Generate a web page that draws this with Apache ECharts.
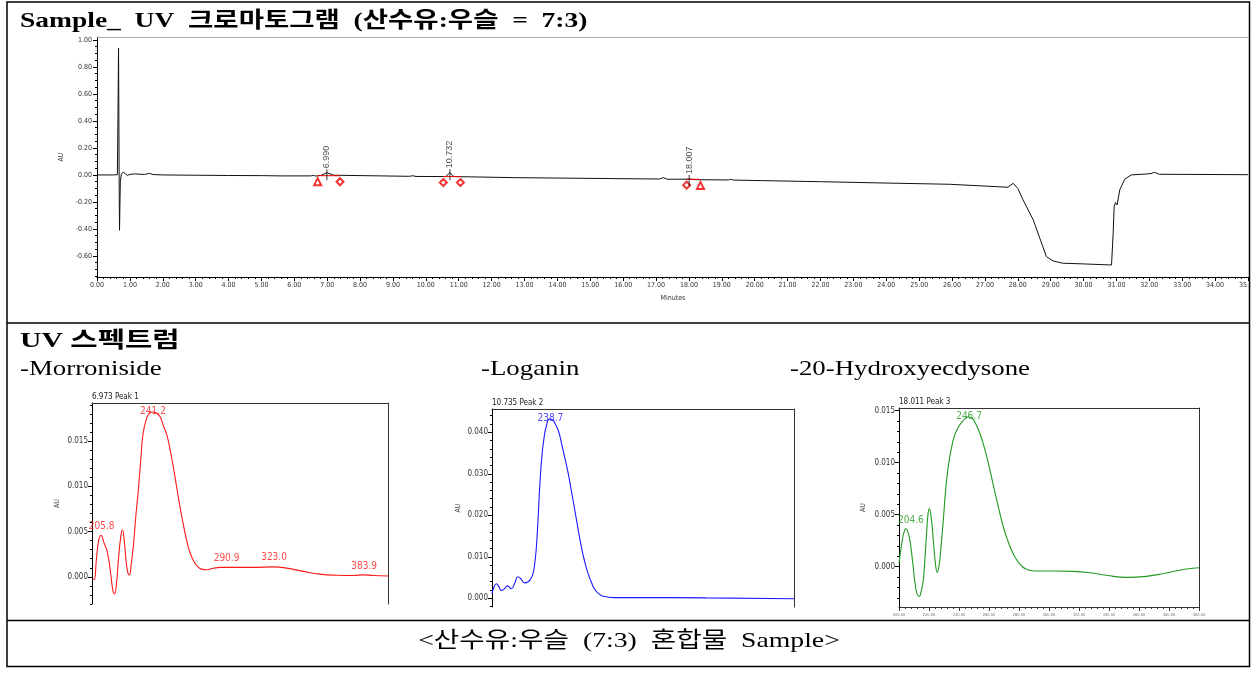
<!DOCTYPE html>
<html><head><meta charset="utf-8">
<script src="https://cdn.jsdelivr.net/npm/echarts@6/dist/echarts.min.js"></script>
<style>html,body{margin:0;padding:0;background:#fff}#c{width:1255px;height:674px}</style>
</head><body><div id="c"></div><script>
// ---------------- DATA ----------------
// Chromatogram (time in minutes, absorbance AU)
const chromTime = [0, 0.5, 0.62, 0.64, 0.655, 0.665, 0.675, 0.685, 0.695, 0.71, 0.74, 0.8, 0.86, 0.92, 1.0, 1.15, 1.3, 1.45, 1.6, 1.7, 2.0, 3.0, 4.0, 5.0, 5.6, 6.5, 6.58, 6.65, 6.8, 6.99, 7.2, 7.48, 7.52, 9.5, 9.6, 9.7, 10.6, 10.73, 10.85, 12.7, 15.7, 17.1, 17.22, 17.35, 18.0, 18.2, 19.2, 19.27, 19.35, 20.2, 22.0, 24.0, 25.93, 27.7, 27.86, 28.0, 28.16, 28.47, 28.67, 28.87, 29.07, 29.37, 30.0, 30.85, 30.9, 30.93, 30.97, 31.02, 31.1, 31.25, 31.45, 31.9, 32.05, 32.15, 32.3, 35.0];
const chromAU   = [0, 0, 0.002, 0.5, 0.94, 0.45, -0.1, -0.41, -0.25, -0.05, 0.005, 0.022, 0.008, -0.003, 0.004, 0.008, 0.005, 0.004, 0.012, 0.003, 0, -0.002, -0.004, -0.005, -0.007, -0.007, -0.003, -0.008, -0.004, 0.017, -0.002, -0.003, -0.008, -0.01, -0.006, -0.011, -0.012, 0.017, -0.012, -0.02, -0.027, -0.03, -0.02, -0.032, -0.031, -0.035, -0.037, -0.032, -0.038, -0.042, -0.05, -0.06, -0.069, -0.091, -0.062, -0.1, -0.185, -0.333, -0.469, -0.605, -0.637, -0.654, -0.659, -0.667, -0.432, -0.235, -0.205, -0.222, -0.111, -0.032, 0.0, 0.007, 0.01, 0.02, 0.005, 0.002];
const peakTimes  = [6.990, 10.732, 18.007];
const peakApexAU = [0.017, 0.017, -0.027];
const peakLabels = ['6.990', '10.732', '18.007'];
// integration baselines (start/end of each peak)
const intStartT  = [6.71, 10.53, 17.93];
const intEndT    = [7.39, 11.05, 18.35];
const intStartAU = [-0.005, -0.012, -0.031];
const intEndAU   = [-0.006, -0.012, -0.033];
const intStartMark = ['triangle', 'diamond', 'diamond'];
const intEndMark   = ['diamond', 'diamond', 'triangle'];
// axis tick labels
const chromYTicks = [-0.6, -0.4, -0.2, 0, 0.2, 0.4, 0.6, 0.8, 1.0];

// UV spectra (wavelength nm, AU)
const spec1Wl = [200.5, 201.5, 203, 204.5, 206.1, 208, 210.4, 212.6, 214, 215.1, 216.5, 218, 219.5, 220.5, 221.8, 223, 224.3, 225.2, 226.5, 228, 229.5, 231.3, 233, 234.5, 236.9, 239, 241.4, 243.5, 245.9, 248, 250.5, 252.7, 255, 257.2, 259.5, 261.8, 264, 266.2, 268.5, 271, 274, 277.5, 282, 286.5, 297.7, 309, 322.5, 331.5, 342.8, 354, 365.3, 376.6, 383.3, 390, 400];
const spec1AU = [-0.0002, -0.0003, 0.002, 0.004, 0.0046, 0.0038, 0.0027, 0.0004, -0.0014, -0.0019, -0.0008, 0.0022, 0.0045, 0.0052, 0.004, 0.0018, 0.0004, 0.0002, 0.0014, 0.0035, 0.0065, 0.0096, 0.013, 0.0158, 0.0175, 0.0181, 0.0182, 0.0181, 0.0177, 0.0168, 0.0157, 0.0141, 0.0121, 0.0099, 0.0077, 0.0057, 0.004, 0.0027, 0.0018, 0.0012, 0.00085, 0.00078, 0.00095, 0.00104, 0.00104, 0.00104, 0.0011, 0.00096, 0.0006, 0.0003, 0.00018, 0.00015, 0.00022, 0.00015, 0.0001];
const spec1PeakWl = [205.8, 241.2, 290.9, 323.0, 383.9];
const spec1PeakAU = [0.0045, 0.0182, 0.00104, 0.0011, 0.0002];
const spec1Ticks = [0, 0.005, 0.010, 0.015];

const spec2Wl = [200, 201.3, 202.9, 204.5, 206.2, 208, 210.2, 212.8, 215, 217.2, 219.5, 221.7, 224, 225.5, 227.2, 228.5, 229.4, 230.5, 231.6, 233, 234.3, 236, 238.2, 240, 241.5, 244, 246, 248, 250.4, 252.6, 254.8, 257, 259.2, 261.4, 263.6, 266, 268.1, 271, 273.6, 280.2, 297.9, 342.1, 400];
const spec2AU = [0.0011, 0.0027, 0.0035, 0.0028, 0.0019, 0.0022, 0.003, 0.0023, 0.0036, 0.0052, 0.0045, 0.0037, 0.004, 0.0046, 0.006, 0.009, 0.0124, 0.019, 0.0269, 0.034, 0.0382, 0.0415, 0.0432, 0.043, 0.0423, 0.0403, 0.0374, 0.0342, 0.0302, 0.0258, 0.0213, 0.0167, 0.0124, 0.0088, 0.006, 0.0037, 0.0021, 0.001, 0.0005, 0.00016, 0.00016, 0.0001, -0.0001];
const spec2PeakWl = [238.7];
const spec2PeakAU = [0.0432];
const spec2Ticks = [0, 0.010, 0.020, 0.030, 0.040];

const spec3Wl = [200, 201.8, 203.3, 204.7, 206, 207.3, 209, 210.7, 212, 213.5, 215, 216.2, 217.3, 218.4, 219.3, 220.2, 221.5, 222.9, 224.2, 225.5, 226.8, 228, 229.6, 231.3, 233, 235.1, 237, 239.5, 242.5, 246.2, 248.5, 250.6, 253.4, 256.2, 259, 261.7, 264.5, 267.3, 270, 272.8, 275.6, 278.4, 281.5, 285, 289, 293.9, 305, 316.1, 327.2, 338.3, 351.6, 364.9, 378.2, 391.6, 400];
const spec3AU = [0.0003, 0.0022, 0.0033, 0.00365, 0.0033, 0.0025, 0.0006, -0.0016, -0.0026, -0.00285, -0.0022, -0.0013, 0.0008, 0.0032, 0.005, 0.0056, 0.0047, 0.0025, 0.0004, -0.00055, 0.0002, 0.0019, 0.0046, 0.0077, 0.0098, 0.0115, 0.0126, 0.0134, 0.014, 0.0144, 0.0143, 0.0139, 0.013, 0.0118, 0.0103, 0.0086, 0.0068, 0.0051, 0.0036, 0.0024, 0.0014, 0.00067, 0.0001, -0.00026, -0.0004, -0.00042, -0.00042, -0.00045, -0.00058, -0.00083, -0.00103, -0.00093, -0.00061, -0.00022, -0.0001];
const spec3PeakWl = [204.6, 246.7];
const spec3PeakAU = [0.00365, 0.0144];
const spec3Ticks = [0, 0.005, 0.010, 0.015];

const specHeaders = ['6.973 Peak 1', '10.735 Peak 2', '18.011 Peak 3'];
const specNames = ['-Morroniside', '-Loganin', '-20-Hydroxyecdysone'];

// ---------------- STYLE / LAYOUT ----------------
const tickFont = "'Liberation Sans Narrow','DejaVu Sans Condensed','Liberation Sans',Arial,sans-serif";
const serifFont = "'Liberation Serif','Noto Sans CJK KR',serif";
const hidden = {show: false};
const xAxes = [], yAxes = [], series = [];
function addX(o) { xAxes.push(o); return xAxes.length - 1; }
function addY(o) { yAxes.push(o); return yAxes.length - 1; }
function minorList(min, max, step, majors) {
  const out = [];
  const n0 = Math.ceil(min / step - 1e-9), n1 = Math.floor(max / step + 1e-9);
  for (let i = n0; i <= n1; i++) {
    const v = +(i * step).toFixed(6);
    if (!majors.some(m => Math.abs(m - v) < step / 10)) out.push(v);
  }
  return out;
}
function yLeft(grid, min, max, majors, step, digits, fontSize, nameGap, margin) {
  const i = addY({type: 'value', gridIndex: grid, min, max, position: 'left',
    axisLine: {show: true, onZero: false, lineStyle: {color: '#000', width: 1}},
    axisTick: {show: true, length: 4, customValues: majors, lineStyle: {color: '#000'}},
    axisLabel: {show: true, customValues: majors, formatter: v => v.toFixed(digits), fontSize, color: '#333', fontFamily: tickFont, margin},
    splitLine: hidden,
    name: 'AU', nameLocation: 'middle', nameGap, nameTextStyle: {fontSize: 7, color: '#333', fontFamily: tickFont}});
  addY({type: 'value', gridIndex: grid, min, max, position: 'left', axisLine: hidden,
    axisTick: {show: true, length: 2, customValues: minorList(min, max, step, majors), lineStyle: {color: '#000'}},
    axisLabel: hidden, splitLine: hidden});
  return i;
}
function yRight(grid, min, max) {
  addY({type: 'value', gridIndex: grid, min, max, position: 'right',
    axisLine: {show: true, lineStyle: {color: '#333', width: 1}}, axisTick: hidden, axisLabel: hidden, splitLine: hidden});
}
function xTop(grid, min, max, color) {
  addX({type: 'value', gridIndex: grid, min, max, position: 'top',
    axisLine: {show: true, onZero: false, lineStyle: {color, width: 1}}, axisTick: hidden, axisLabel: hidden, splitLine: hidden});
}

const grids = [
  {left: 97, top: 37, width: 1151, height: 240},
  {left: 92, top: 403, width: 296, height: 201},
  {left: 492, top: 409, width: 302, height: 198},
  {left: 899, top: 408, width: 300, height: 199}
].map(g => Object.assign({containLabel: false, outerBoundsMode: 'none', show: false}, g));

// ---- main chromatogram axes
const mx = addX({type: 'value', gridIndex: 0, min: 0, max: 35, interval: 1, position: 'bottom',
  axisLine: {onZero: false, lineStyle: {color: '#000'}},
  axisTick: {length: 4, lineStyle: {color: '#000'}},
  minorTick: {show: true, splitNumber: 5, length: 2, lineStyle: {color: '#000'}},
  axisLabel: {formatter: v => v.toFixed(2), fontSize: 7, color: '#333', fontFamily: tickFont, margin: 5, showMaxLabel: true, showMinLabel: true, hideOverlap: false},
  splitLine: hidden, minorSplitLine: hidden});
xTop(0, 0, 35, '#aaa');
const my = yLeft(0, -0.756, 1.022, chromYTicks, 0.05, 2, 7, 32, 5);

// ---- spectra axes
const specDefs = [
  {wl: spec1Wl, au: spec1AU, pwl: spec1PeakWl, pau: spec1PeakAU, ticks: spec1Ticks, min: -0.003, max: 0.0192, step: 0.001, color: '#ff1a1a', gap: 31, offsets: [[1, -10], [0, -1], [0, -9], [0, -9], [0, -9]], bottom: false},
  {wl: spec2Wl, au: spec2AU, pwl: spec2PeakWl, pau: spec2PeakAU, ticks: spec2Ticks, min: -0.0021, max: 0.0456, step: 0.002, color: '#1a1aff', gap: 30, offsets: [[0, -1]], bottom: false},
  {wl: spec3Wl, au: spec3AU, pwl: spec3PeakWl, pau: spec3PeakAU, ticks: spec3Ticks, min: -0.00388, max: 0.01526, step: 0.001, color: '#1f9a1f', gap: 32, offsets: [[5, -8], [0, -1]], bottom: true}
];
specDefs.forEach((s, k) => {
  const g = k + 1;
  s.xi = addX({type: 'value', gridIndex: g, min: 200, max: 400, interval: 20, position: 'bottom',
    axisLine: {show: s.bottom, onZero: false, lineStyle: {color: '#333'}},
    axisTick: {show: s.bottom, length: 4, lineStyle: {color: '#333'}},
    minorTick: {show: s.bottom, splitNumber: 5, length: 2, lineStyle: {color: '#333'}},
    axisLabel: {show: s.bottom, formatter: v => v.toFixed(2), fontSize: 4, color: '#777', fontFamily: tickFont, margin: 6, hideOverlap: false},
    splitLine: hidden, minorSplitLine: hidden});
  xTop(g, 200, 400, '#333');
  s.yi = yLeft(g, s.min, s.max, s.ticks, s.step, 3, 8, s.gap, 4);
  yRight(g, s.min, s.max);
});

// ---------------- SERIES ----------------
series.push({type: 'line', xAxisIndex: mx, yAxisIndex: my,
  data: chromTime.map((t, i) => [t, chromAU[i]]),
  showSymbol: false, symbol: 'none', lineStyle: {color: '#111', width: 1}, itemStyle: {color: '#111'}, z: 3});
// integration baselines
intStartT.forEach((t, i) => {
  series.push({type: 'line', xAxisIndex: mx, yAxisIndex: my,
    data: [[t, intStartAU[i]], [intEndT[i], intEndAU[i]]],
    showSymbol: false, symbol: 'none', lineStyle: {color: '#e00', width: 1}, z: 4});
});
// integration markers
const markData = [];
intStartT.forEach((t, i) => {
  markData.push({value: [t, intStartAU[i]], symbol: 'empty' + intStartMark[i][0].toUpperCase() + intStartMark[i].slice(1)});
  markData.push({value: [intEndT[i], intEndAU[i]], symbol: 'empty' + intEndMark[i][0].toUpperCase() + intEndMark[i].slice(1)});
});
series.push({type: 'scatter', xAxisIndex: mx, yAxisIndex: my, data: markData,
  symbolSize: 7, symbolOffset: [0, 6], itemStyle: {color: '#e00', borderColor: '#e00', borderWidth: 1}, z: 5});
// peak ticks + retention time labels
series.push({type: 'scatter', xAxisIndex: mx, yAxisIndex: my,
  data: peakTimes.map((t, i) => ({value: [t, peakApexAU[i]], name: peakLabels[i]})),
  symbol: 'rect', symbolSize: [1, 11], symbolOffset: [0, 2], itemStyle: {color: '#000'},
  label: {show: true, formatter: p => p.name, position: 'top', distance: 1, rotate: 90, align: 'left', verticalAlign: 'middle',
    fontSize: 9, color: '#222', fontFamily: "'Liberation Sans',Arial,sans-serif"}, z: 6});

specDefs.forEach(s => {
  series.push({type: 'line', xAxisIndex: s.xi, yAxisIndex: s.yi,
    data: s.wl.map((w, i) => [w, s.au[i]]), smooth: 0.5,
    showSymbol: false, symbol: 'none', lineStyle: {color: s.color, width: 1.1}, z: 3});
  series.push({type: 'scatter', xAxisIndex: s.xi, yAxisIndex: s.yi,
    data: s.pwl.map((w, i) => ({value: [w, s.pau[i]], label: {offset: s.offsets[i]}})),
    symbol: 'circle', symbolSize: 1, itemStyle: {color: 'rgba(0,0,0,0)'},
    label: {show: true, position: 'inside', formatter: p => p.value[0].toFixed(1), fontSize: 10, color: s.color, fontFamily: tickFont}, z: 5});
});

// ---------------- GRAPHIC (frame + texts) ----------------
function txt(x, y, text, font, sx, align) {
  return {type: 'text', z: 101, x, y, scaleX: sx, style: {text, font, fill: '#000', align: align || 'left', verticalAlign: 'middle'}};
}
const graphic = [
  {type: 'rect', z: 100, shape: {x: 1250.3, y: 0, width: 10, height: 674}, style: {fill: '#fff'}},
  {type: 'rect', z: 101, shape: {x: 7, y: 2, width: 1242.5, height: 664.5}, style: {fill: 'none', stroke: '#000', lineWidth: 1.5}},
  {type: 'line', z: 101, shape: {x1: 7, y1: 323, x2: 1249.5, y2: 323}, style: {stroke: '#000', lineWidth: 1.5}},
  {type: 'line', z: 101, shape: {x1: 7, y1: 620.5, x2: 1249.5, y2: 620.5}, style: {stroke: '#000', lineWidth: 1.5}},
  txt(20, 21, 'Sample_  UV  크로마토그램  (산수유:우슬  =  7:3)', 'bold 22px ' + serifFont, 1.25),
  txt(20, 341, 'UV 스펙트럼', 'bold 22px ' + serifFont, 1.35),
  txt(20, 369, specNames[0], '22px ' + serifFont, 1.22),
  txt(481, 369, specNames[1], '22px ' + serifFont, 1.22),
  txt(790, 369, specNames[2], '22px ' + serifFont, 1.22),
  txt(629, 641, '<산수유:우슬  (7:3)  혼합물  Sample>', '22px ' + serifFont, 1.26, 'center'),
  {type: 'text', z: 101, x: 673, y: 298, style: {text: 'Minutes', font: '7px ' + tickFont, fill: '#333', align: 'center', verticalAlign: 'middle'}},
  {type: 'text', z: 101, x: 92, y: 397, style: {text: specHeaders[0], font: '8px ' + tickFont, fill: '#222', verticalAlign: 'middle'}},
  {type: 'text', z: 101, x: 492, y: 403, style: {text: specHeaders[1], font: '8px ' + tickFont, fill: '#222', verticalAlign: 'middle'}},
  {type: 'text', z: 101, x: 899, y: 402, style: {text: specHeaders[2], font: '8px ' + tickFont, fill: '#222', verticalAlign: 'middle'}}
];

const chart = echarts.init(document.getElementById('c'), null, {renderer: 'canvas'});
chart.setOption({
  animation: false,
  backgroundColor: '#fff',
  grid: grids,
  xAxis: xAxes,
  yAxis: yAxes,
  series,
  graphic
});
</script></body></html>
